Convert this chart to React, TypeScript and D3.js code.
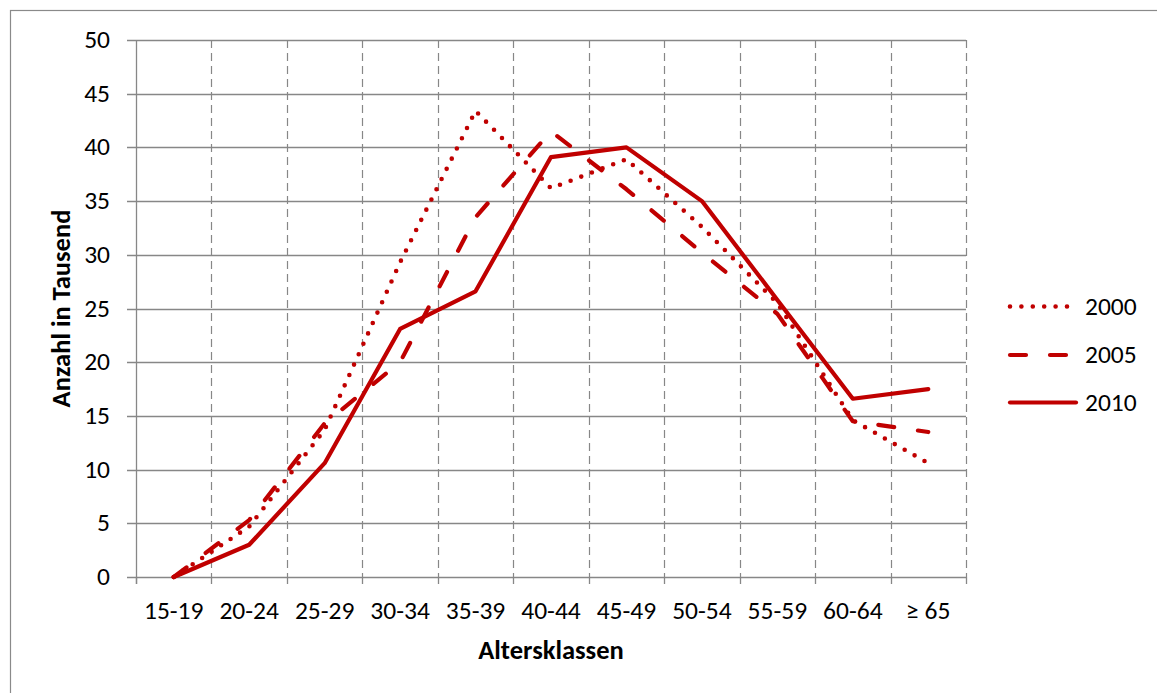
import React from 'react';
import * as d3 from 'd3';

const categories = ['15-19', '20-24', '25-29', '30-34', '35-39', '40-44', '45-49', '50-54', '55-59', '60-64', '≥ 65'];
const values2000 = [0, 4.7, 13.7, 29.3, 43.4, 36.2, 38.9, 32.6, 25.5, 14.6, 10.6];
const values2005 = [0, 5.3, 14.3, 20.0, 33.5, 41.5, 36.1, 30.2, 24.5, 14.5, 13.5];
const values2010 = [0, 3.0, 10.6, 23.1, 26.6, 39.1, 40.0, 35.0, 25.8, 16.6, 17.5];
const seriesNames = ['2000', '2005', '2010'];
const yTicks = [0, 5, 10, 15, 20, 25, 30, 35, 40, 45, 50];

const RED = '#C00000';
const GRID = '#878787';
const FONT = "Calibri, Carlito, Lato, 'Open Sans', sans-serif";

const styles = [
  { dash: '0 11.4', width: 4.6 },
  { dash: '16 24', width: 4.2 },
  { dash: null as string | null, width: 4.2 },
];

export default function App() {
  const W = 1157;
  const H = 693;
  const left = 136, right = 966, top = 40, bottom = 577;
  const x = d3.scaleBand<string>().domain(categories).range([left, right]).paddingInner(0).paddingOuter(0);
  const y = d3.scaleLinear().domain([0, 50]).range([bottom, top]);
  const cx = (i: number) => (x(categories[i]) as number) + x.bandwidth() / 2;
  const line = d3.line<number>().x((_, i) => cx(i)).y((d) => y(d));
  const allSeries = [values2000, values2005, values2010];
  const boundaries = categories.map((c) => x(c) as number).concat([right]);

  const legendY = [306.5, 355, 402.5];

  return (
    <svg width={W} height={H} style={{ position: 'absolute', left: 0, top: 0, display: 'block', background: '#fff' }}>
      <rect x={0} y={0} width={W} height={H} fill="#fff" />
      {/* outer frame */}
      <rect x={10.5} y={10.5} width={1200} height={800} fill="none" stroke="#8a8a8a" strokeWidth={1.2} />

      {/* horizontal gridlines */}
      {yTicks.map((t) => (
        <line key={'h' + t} x1={127} x2={right} y1={Math.round(y(t)) + 0.5} y2={Math.round(y(t)) + 0.5} stroke={GRID} strokeWidth={1.3} />
      ))}
      {/* vertical dashed gridlines */}
      {boundaries.slice(1).map((b, i) => (
        <line key={'v' + i} x1={Math.round(b) + 0.5} x2={Math.round(b) + 0.5} y1={top} y2={bottom} stroke={GRID} strokeWidth={1.2} strokeDasharray="8 5" />
      ))}
      {/* y axis */}
      <line x1={left + 0.5} x2={left + 0.5} y1={top} y2={bottom + 7} stroke={GRID} strokeWidth={1.3} />
      {/* x tick marks */}
      {boundaries.map((b, i) => (
        <line key={'t' + i} x1={Math.round(b) + 0.5} x2={Math.round(b) + 0.5} y1={bottom} y2={bottom + 7} stroke={GRID} strokeWidth={1.3} />
      ))}

      {/* y labels */}
      {yTicks.map((t) => (
        <text key={'yl' + t} x={110} y={y(t) + 8} textAnchor="end" fontFamily={FONT} fontSize={25.5} fill="#000">{t}</text>
      ))}
      {/* x labels */}
      {categories.map((c, i) => (
        <text key={'xl' + c} x={cx(i)} y={619} textAnchor="middle" fontFamily={FONT} fontSize={25.5} fill="#000">{c}</text>
      ))}

      {/* axis titles */}
      <text x={(left + right) / 2} y={659} textAnchor="middle" fontFamily={FONT} fontSize={26.5} fontWeight="bold" fill="#000">Altersklassen</text>
      <text transform={`translate(70, ${(top + bottom) / 2}) rotate(-90)`} textAnchor="middle" fontFamily={FONT} fontSize={26.5} fontWeight="bold" fill="#000">Anzahl in Tausend</text>

      {/* series */}
      {allSeries.map((s, k) => (
        <path key={'s' + k} d={line(s) as string} fill="none" stroke={RED} strokeWidth={styles[k].width}
          strokeDasharray={styles[k].dash ?? undefined} strokeLinecap="round" strokeLinejoin="round" />
      ))}

      {/* legend */}
      {seriesNames.map((n, k) => (
        <g key={'lg' + n}>
          <line x1={1010} x2={1076} y1={legendY[k]} y2={legendY[k]} stroke={RED} strokeWidth={styles[k].width}
            strokeDasharray={styles[k].dash ?? undefined} strokeLinecap="round" />
          <text x={1085} y={legendY[k] + 8} fontFamily={FONT} fontSize={25.5} fill="#000">{n}</text>
        </g>
      ))}
    </svg>
  );
}
